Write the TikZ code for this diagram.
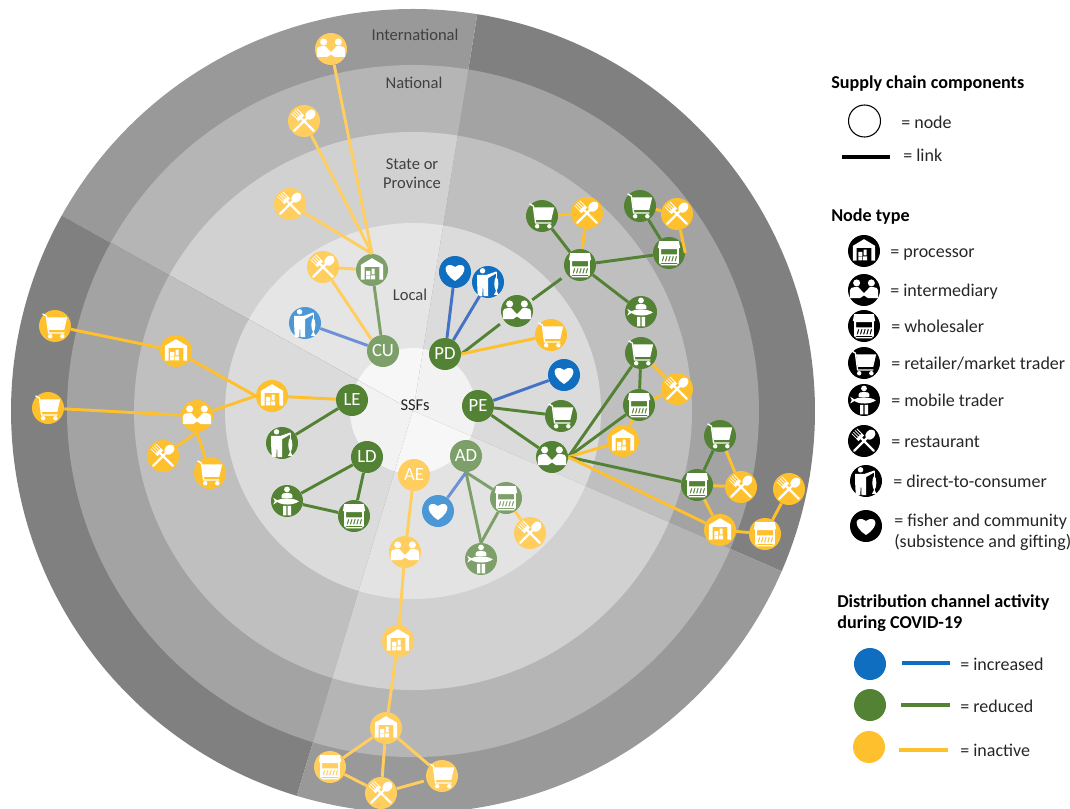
\documentclass[tikz,border=0pt]{standalone}
\usepackage{fontspec}
\setmainfont{Carlito}
\definecolor{cgreen}{HTML}{548235}
\definecolor{cgreenf}{HTML}{7D9F69}
\definecolor{cyel}{HTML}{FFC02D}
\definecolor{cyelf}{HTML}{FFCE5E}
\definecolor{cblue}{HTML}{0F6EBF}
\definecolor{cbluef}{HTML}{4C98D6}
\definecolor{lblue}{HTML}{4472C4}
\definecolor{lbluef}{HTML}{6F90D4}
\definecolor{lab}{HTML}{404040}
\definecolor{legt}{HTML}{262626}
\tikzset{
  base/.style={circle,inner sep=0pt,minimum size=24pt,draw=none},
  ng/.style={base,fill=cgreen}, ngf/.style={base,fill=cgreenf},
  ny/.style={base,fill=cyel}, nyf/.style={base,fill=cyelf},
  nb/.style={base,fill=cblue}, nbf/.style={base,fill=cbluef},
  nk/.style={base,fill=black},
  abbr/.style={text=white,font=\fontsize{14}{14}\selectfont},
  ring/.style={text=lab,font=\fontsize{12.4}{14.3}\selectfont,align=center},
  leg/.style={text=legt,anchor=west,font=\fontsize{13.5}{14}\selectfont,inner sep=0pt},
  legh/.style={text=black,anchor=west,font=\fontsize{13.6}{14}\selectfont\bfseries,inner sep=0pt},
  lk/.style={line width=2.2pt},
  lg/.style={lk,draw=cgreen}, lgf/.style={lk,draw=cgreenf},
  ly/.style={lk,draw=cyel}, lyf/.style={lk,draw=cyelf},
  lb/.style={lk,draw=lblue}, lbf/.style={lk,draw=lbluef},
  pics/iproc/.style={code={\begin{scope}[x=12pt,y=12pt]
    \fill[white] (-.7,-.6) -- (-.7,.32) -- (0,.74) -- (.7,.32) -- (.7,-.6) -- (.46,-.6) -- (.46,.2) -- (-.46,.2) -- (-.46,-.6) -- cycle;
    \fill[white] (-.36,-.58) rectangle (-.1,-.34) (-.06,-.58) rectangle (.2,-.34) (-.36,-.3) rectangle (-.1,-.06) (-.02,-.28) rectangle (.16,.08);
  \end{scope}}},
  pics/iinter/.style={code={\begin{scope}[x=12pt,y=12pt]
    \fill[white] (-.46,.44) circle (.22) (.46,.44) circle (.22);
    \fill[white] (-.88,-.5) -- (-.88,-.02) .. controls (-.88,.12) and (-.74,.18) .. (-.58,.18) -- (-.36,.18) -- (0,-.2) -- (.36,.18) -- (.58,.18) .. controls (.74,.18) and (.88,.12) .. (.88,-.02) -- (.88,-.5) -- (.24,-.5) -- (0,-.34) -- (-.24,-.5) -- cycle;
  \end{scope}}},
  pics/iwhole/.style={code={\begin{scope}[x=12pt,y=12pt]
    \fill[white,even odd rule] (-.62,.74) -- (.62,.74) -- (.7,.3) -- (.62,.3) -- (.62,-.66) -- (.52,-.66) -- (.52,-.78) -- (-.52,-.78) -- (-.52,-.66) -- (-.62,-.66) -- (-.62,.3) -- (-.7,.3) -- cycle
      (-.5,.24) rectangle (.5,-.08)
      \foreach \i in {-.46,-.26,-.06,.14,.34} { (\i,-.52) -- (\i+.08,-.52) -- (\i+.17,-.2) -- (\i+.09,-.2) -- cycle }
      (-.5,-.62) rectangle (.5,-.7);
  \end{scope}}},
  pics/icart/.style={code={\begin{scope}[x=12pt,y=12pt]
    \fill[white] (-.5,.54) -- (.76,.54) -- (.58,-.24) -- (-.4,-.24) -- cycle;
    \draw[white,line width=1pt,line join=round] (-.78,.76) -- (-.54,.62) -- (-.4,-.44) -- (.58,-.44);
    \fill[white] (-.3,-.64) circle (.14) (.46,-.64) circle (.14);
  \end{scope}}},
  pics/imob/.style={code={\begin{scope}[x=12pt,y=12pt]
    \fill[white] (0,.72) circle (.18);
    \fill[white] (-.34,.2) -- (-.34,.36) .. controls (-.34,.48) and (-.18,.5) .. (0,.5) .. controls (.18,.5) and (.34,.48) .. (.34,.36) -- (.34,.2) -- cycle;
    \fill[white] (-.6,.04) .. controls (-.3,.22) and (.4,.2) .. (.74,-.02) .. controls (.4,-.28) and (-.3,-.28) .. (-.6,-.06) -- (-.86,-.22) -- (-.76,0) -- (-.86,.2) -- cycle;
    \fill[white] (-.25,-.3) rectangle (-.04,-.9) (.04,-.3) rectangle (.25,-.9);
  \end{scope}}},
  pics/irest/.style={code={\begin{scope}[x=12pt,y=12pt]
    \begin{scope}[rotate=-45]
      \draw[white,line width=1.7pt,line cap=round] (0,-.86) -- (0,.3);
      \fill[white] (0,.56) ellipse (.27 and .36);
    \end{scope}
    \begin{scope}[rotate=45]
      \draw[white,line width=1.7pt,line cap=round] (0,-.86) -- (0,.3);
      \fill[white] (-.25,.24) rectangle (.25,.44);
      \draw[white,line width=.55pt,line cap=round] (-.22,.4) -- (-.22,.86) (-.075,.4) -- (-.075,.86) (.075,.4) -- (.075,.86) (.22,.4) -- (.22,.86);
    \end{scope}
  \end{scope}}},
  pics/idir/.style={code={\begin{scope}[x=12pt,y=12pt]
    \fill[white] (-.34,.7) circle (.17);
    \fill[white] (-.68,.44) -- (-.1,.44) -- (.52,.66) -- (.52,.54) -- (0,.24) -- (0,-.88) -- (-.28,-.88) -- (-.31,-.1) -- (-.36,-.88) -- (-.64,-.88) -- (-.68,-.1) -- cycle;
    \draw[white,line width=.5pt] (.52,.6) -- (.52,.3);
    \fill[white] (.52,.36) .. controls (.34,.1) and (.36,-.35) .. (.52,-.6) .. controls (.68,-.35) and (.7,.1) .. (.52,.36) -- cycle;
    \fill[white] (.52,-.52) -- (.38,-.8) -- (.66,-.8) -- cycle;
  \end{scope}}},
  pics/iheart/.style={code={\begin{scope}[x=12pt,y=12pt]
    \fill[white] (0,-.56) .. controls (-.95,.05) and (-.6,.72) .. (0,.32) .. controls (.6,.72) and (.95,.05) .. (0,-.56) -- cycle;
  \end{scope}}},
}
\newcommand{\Nd}[5]{\node[#4] (#1) at (#2,#3) {}; \pic at (#1) {#5};}
\newcommand{\Sec}[7]{%
  \fill[#3] (0,0) -- (#1:402) arc[start angle=#1,end angle=#2,radius=402] -- cycle;
  \fill[#4] (0,0) -- (#1:346) arc[start angle=#1,end angle=#2,radius=346] -- cycle;
  \fill[#5] (0,0) -- (#1:279) arc[start angle=#1,end angle=#2,radius=279] -- cycle;
  \fill[#6] (0,0) -- (#1:188) arc[start angle=#1,end angle=#2,radius=188] -- cycle;
  \fill[#7] (0,0) -- (#1:63) arc[start angle=#1,end angle=#2,radius=63] -- cycle;}
\begin{document}
\begin{tikzpicture}[x=.75pt,y=-.75pt]
\useasboundingbox (0,0) rectangle (1070,809);
\clip (0,0) rectangle (1070,809);
\begin{scope}[shift={(413,411)},x=.75pt,y=.75pt]
  \Sec{-23.5}{80.8}{black!50}{black!36}{black!25}{black!14}{black!5}
  \Sec{80.8}{150.9}{black!40}{black!29}{black!18}{black!10}{black!3}
  \Sec{150.9}{253.2}{black!50}{black!36}{black!25}{black!14}{black!5}
  \Sec{253.2}{336.5}{black!40}{black!29}{black!18}{black!11}{black!3}
\end{scope}
% ring labels
\node[ring] (tint) at (415,35) {International};
\node[ring] (tnat) at (414,83) {National};
\node[ring] (tsta) at (412,174) {State or\\Province};
\node[ring] (tloc) at (410,295) {Local};
\node[ring,text=black!85] (tssf) at (415,405) {SSFs};
% CU group
\node[ngf,abbr] (CU) at (383,351) {CU};
\Nd{c1}{305}{323}{nbf}{idir}
\Nd{c2}{372}{270}{ngf}{iproc}
\Nd{c3}{323}{267}{nyf}{irest}
\Nd{c4}{290}{204}{nyf}{irest}
\Nd{c5}{304}{121}{nyf}{irest}
\Nd{c6}{331}{49}{nyf}{iinter}
\draw[lbf] (CU) -- (c1);
\draw[lgf] (CU) -- (c2);
\draw[lyf] (CU.north west) -- (c3);
\draw[lyf] (c2) -- (c3);
\draw[lyf] (c2.north) -- (c4);
\draw[lyf] (c2.north) -- (c5);
\draw[lyf] (c2.north) -- (c6);
% PD group
\node[ng,abbr] (PD) at (445,354) {PD};
\Nd{d1}{455}{272}{nb}{iheart}
\Nd{d2}{488}{282}{nb}{idir}
\Nd{d3}{517}{311}{ng}{iinter}
\Nd{d4}{551}{335}{ny}{icart}
\Nd{d5}{580}{265}{ng}{iwhole}
\Nd{d6}{542}{216}{ng}{icart}
\Nd{d7}{587}{213}{ny}{irest}
\Nd{d8}{669}{253}{ng}{iwhole}
\Nd{d9}{640}{206}{ng}{icart}
\Nd{d10}{677}{214}{ny}{irest}
\Nd{d11}{641}{312}{ng}{imob}
\draw[lb] (PD) -- (d1);
\draw[lb] (PD) -- (d2);
\draw[lg,shorten >=4pt] (PD.east) -- (d3);
\draw[ly] (PD.east) -- (d4);
\draw[lg,shorten >=5pt,shorten <=2pt] (d3) -- (d5);
\draw[lg] (d5) -- (d6);
\draw[ly] (d5) -- (d7);
\draw[ly] (d6) -- (d7);
\draw[lg] (d5) -- (d8);
\draw[lg] (d5) -- (d11);
\draw[lg] (d8) -- (d9);
\draw[ly] (d9) -- (d10);
\draw[ly] (d8.east) -- (d10);
% PE group
\node[ng,abbr] (PE) at (478,406) {PE};
\Nd{e1}{564}{375}{nb}{iheart}
\Nd{e2}{561}{416}{ng}{icart}
\Nd{e3}{552}{457}{ng}{iinter}
\Nd{e4}{641}{353}{ng}{icart}
\Nd{e5}{639}{405}{ng}{iwhole}
\Nd{e6}{677}{389}{ny}{irest}
\Nd{e7}{623}{441}{ny}{iproc}
\Nd{e8}{697}{485}{ng}{iwhole}
\Nd{e9}{720}{436}{ng}{icart}
\Nd{e10}{741}{487}{ny}{irest}
\Nd{e11}{720}{530}{ny}{iproc}
\Nd{e12}{765}{534}{ny}{iwhole}
\Nd{e13}{789}{489}{ny}{irest}
\draw[lb] (PE) -- (e1);
\draw[lg] (PE) -- (e2);
\draw[lg] (PE) -- (e3);
\draw[lg] (e3.east) -- (e4);
\draw[lg] (e3.east) -- (e5);
\draw[lg] (e4) -- (e5);
\draw[ly] (e4) -- (e6);
\draw[ly] (e5) -- (e6);
\draw[ly] (e3.east) -- (e7);
\draw[ly] (e5) -- (e7);
\draw[lg] (e3.east) -- (e8);
\draw[lg] (e8) -- (e9);
\draw[ly] (e9) -- (e10);
\draw[ly] (e8) -- (e10);
\draw[ly] (e3.east) -- (e11);
\draw[ly] (e8) -- (e11);
\draw[ly] (e11) -- (e12);
\draw[ly] (e12) -- (e13);
% LE group
\node[ng,abbr] (LE) at (352,400) {LE};
\Nd{f1}{272}{396}{ny}{iproc}
\Nd{f2}{282}{443}{ng}{idir}
\Nd{f3}{176}{351}{ny}{iproc}
\Nd{f4}{55}{326}{ny}{icart}
\Nd{f5}{197}{416}{ny}{iinter}
\Nd{f6}{48}{408}{ny}{icart}
\Nd{f7}{163}{456}{ny}{irest}
\Nd{f8}{210}{473}{ny}{icart}
\draw[ly] (LE) -- (f1);
\draw[lg] (LE) -- (f2);
\draw[ly] (f1.west) -- (f3);
\draw[ly] (f3) -- (f4);
\draw[ly] (f1.west) -- (f5);
\draw[ly] (f5) -- (f6);
\draw[ly] (f5.south) -- (f7);
\draw[ly] (f5.south) -- (f8);
% LD group
\node[ng,abbr] (LD) at (367,457) {LD};
\Nd{g1}{287}{501}{ng}{imob}
\Nd{g2}{354}{516}{ng}{iwhole}
\draw[lg] (LD) -- (g1);
\draw[lg] (LD) -- (g2);
\draw[lg] (g1) -- (g2);
% AD group
\node[ngf,abbr] (AD) at (466,456) {AD};
\Nd{h1}{438}{511}{nbf}{iheart}
\Nd{h2}{506}{498}{ngf}{iwhole}
\Nd{h3}{481}{559}{ngf}{imob}
\Nd{h4}{530}{533}{nyf}{irest}
\draw[lbf] (AD.south) -- (h1);
\draw[lgf] (AD.south) -- (h2);
\draw[lgf] (AD.south) -- (h3.north);
\draw[lgf] (h2) -- (h3.north);
\draw[lyf] (h2) -- (h4);
% AE group
\node[nyf,abbr] (AE) at (414,475) {AE};
\Nd{i1}{405}{552}{nyf}{iinter}
\Nd{i2}{398}{641}{nyf}{iproc}
\Nd{i3}{386}{728}{nyf}{iproc}
\Nd{i4}{330}{767}{nyf}{iwhole}
\Nd{i5}{381}{793}{nyf}{irest}
\Nd{i6}{442}{776}{nyf}{icart}
\draw[lyf] (AE) -- (i1);
\draw[lyf] (i1) -- (i2);
\draw[lyf] (i2) -- (i3);
\draw[lyf] (i3) -- (i4);
\draw[lyf] (i3) -- (i5);
\draw[lyf] (i3) -- (i6);
\draw[lyf] (i4) -- (i5);
\draw[lyf,shorten >=2pt] (i5) -- (i6);
% legend
\node[legh] (a1) at (831,84) {Supply chain components};
\node[base,draw=black,line width=.8pt,minimum size=24pt] (a2) at (864.5,121) {};
\node[leg] (a3) at (901,122) {= node};
\coordinate (a4a) at (842,157);
\coordinate (a4b) at (890,157);
\draw[black,line width=2.8pt] (a4a) -- (a4b);
\node[leg] (a5) at (903,155) {= link};
\node[legh] (a6) at (831,217) {Node type};
\Nd{k1}{864}{251}{nk}{iproc}
\node[leg] (k1t) at (890,255) {= processor};
\Nd{k2}{864}{290}{nk}{iinter}
\node[leg] (k2t) at (890,292) {= intermediary};
\Nd{k3}{864}{326}{nk}{iwhole}
\node[leg] (k3t) at (891,326) {= wholesaler};
\Nd{k4}{864}{363}{nk}{icart}
\node[leg] (k4t) at (891,364) {= retailer/market trader};
\Nd{k5}{864}{400}{nk}{imob}
\node[leg] (k5t) at (891,400) {= mobile trader};
\Nd{k6}{864}{441}{nk}{irest}
\node[leg] (k6t) at (891,442) {= restaurant};
\Nd{k7}{866}{481}{nk}{idir}
\node[leg] (k7t) at (893,481) {= direct-to-consumer};
\Nd{k8}{866}{526}{nk}{iheart}
\node[leg] (k8t) at (894,522) {= fisher and community};
\node[leg] (k8u) at (894,542) {(subsistence and gifting)};
\node[legh] (m1) at (837,603) {Distribution channel activity};
\node[legh] (m2) at (837,624) {during COVID-19};
\node[base,fill=cblue] (m3) at (870,664) {};
\node[base,fill=cgreen] (m4) at (870,705) {};
\node[base,fill=cyel] (m5) at (869,747) {};
\coordinate (m6a) at (902,663); \coordinate (m6b) at (950,663);
\coordinate (m7a) at (901,705); \coordinate (m7b) at (950,705);
\coordinate (m8a) at (899,750); \coordinate (m8b) at (948,750);
\draw[line width=2.4pt,draw=cblue] (m6a) -- (m6b);
\draw[line width=2.4pt,draw=cgreen] (m7a) -- (m7b);
\draw[line width=2.4pt,draw=cyel] (m8a) -- (m8b);
\node[leg] (m9) at (960,664) {= increased};
\node[leg] (m10) at (960,706) {= reduced};
\node[leg] (m11) at (960,750) {= inactive};
\end{tikzpicture}
\end{document}
